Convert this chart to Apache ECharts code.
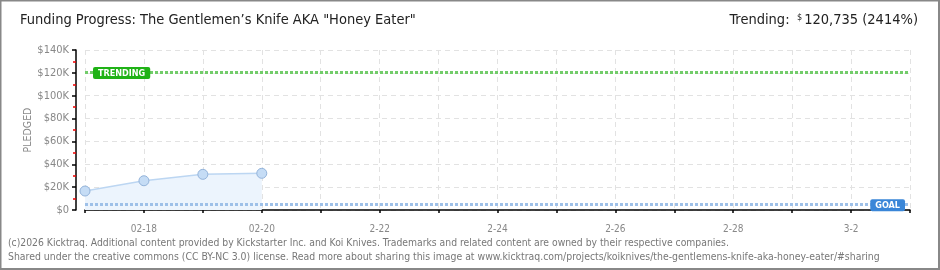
<!DOCTYPE html>
<html><head><meta charset="utf-8">
<script src="https://cdn.jsdelivr.net/npm/echarts@6/dist/echarts.min.js"></script>
<style>html,body{margin:0;padding:0;background:#fff}#c{width:940px;height:270px}</style>
</head><body><div id="c"></div>
<script>
var categories = ['02-17','02-18','02-19','02-20','02-21','02-22','02-23','02-24','02-25','02-26','02-27','02-28','03-01','03-02','03-03'];
var tickLabels = ['','02-18','','02-20','','2-22','','2-24','','2-26','','2-28','','3-2',''];
var pledged = [16600, 25600, 31200, 32100];
var yTicks = [0, 20000, 40000, 60000, 80000, 100000, 120000, 140000];
var goal = 5000;
var trending = 120735;
var FONT = '"DejaVu Sans Condensed","Liberation Sans Narrow","DejaVu Sans",sans-serif';

var chart = echarts.init(document.getElementById('c'), null, {renderer:'canvas'});
chart.setOption({
  animation:false,
  backgroundColor:'#fff',
  grid:{left:85, right:30, top:50, bottom:60},
  xAxis:{
    type:'category', data:categories, boundaryGap:false, offset:10,
    axisLine:{lineStyle:{color:'#000', width:1.5}},
    axisTick:{show:true, length:3, interval:0, lineStyle:{color:'#000', width:1.5}},
    axisLabel:{interval:0, margin:4, color:'#888', fontSize:10, fontFamily:FONT,
      formatter:function(v, i){ return tickLabels[i]; }},
    splitLine:{show:true, interval:0, lineStyle:{color:'#e2e2e2', type:[5,4]}}
  },
  yAxis:{
    type:'value', min:yTicks[0], max:yTicks[yTicks.length-1], interval:yTicks[1]-yTicks[0], offset:9,
    name:'PLEDGED', nameLocation:'middle', nameGap:42, nameMoveOverlap:false,
    nameTextStyle:{color:'#888', fontSize:10.5, fontFamily:FONT},
    axisLine:{show:true, lineStyle:{color:'#000', width:1.5}},
    axisTick:{show:true, length:4, lineStyle:{color:'#000', width:1.5}},
    minorTick:{show:true, splitNumber:2, length:3, lineStyle:{color:'#e00', width:1.5}},
    axisLabel:{margin:7, color:'#888', fontSize:11, fontFamily:FONT,
      formatter:function(v){ return v===0 ? '$0' : '$'+(v/1000)+'K'; }},
    splitLine:{show:true, lineStyle:{color:'#e2e2e2', type:[5,4]}}
  },
  series:[{
    type:'line', data:pledged,
    symbol:'circle', symbolSize:10,
    itemStyle:{color:'#c5dcf5', borderColor:'#93b3da', borderWidth:1},
    lineStyle:{color:'#bcd6f2', width:1.5},
    areaStyle:{color:'#ecf4fd', opacity:1},
    z:3,
    markLine:{
      silent:true, symbol:'none',
      data:[
        {yAxis:trending, lineStyle:{color:'#72cc6a', width:3, type:[3,2]},
         label:{show:true, position:'insideStartTop', formatter:'TRENDING', distance:[8,-7],
           backgroundColor:'#1fb216', color:'#fff', fontSize:9, fontWeight:'bold', fontFamily:FONT,
           padding:[2,5,1,5], borderRadius:2}},
        {yAxis:goal, lineStyle:{color:'#9ec0e8', width:3, type:[3,2]},
         label:{show:true, position:'insideEndTop', formatter:'GOAL', distance:[5,-7],
           backgroundColor:'#3a86d8', color:'#fff', fontSize:9, fontWeight:'bold', fontFamily:FONT,
           padding:[2,5,1,5], borderRadius:2}}
      ]
    }
  }],
  graphic:[
    {type:'rect', shape:{x:0.5, y:0.5, width:938.5, height:268.5}, style:{fill:'none', stroke:'#888', lineWidth:2}, silent:true},
    {type:'text', left:20, top:13, style:{text:'Funding Progress: The Gentlemen\u2019s Knife AKA "Honey Eater"', fill:'#222', font:'14.5px '+FONT}},
    {type:'text', right:22, top:13, style:{
      rich:{a:{fontSize:14.5, fontFamily:FONT, fill:'#222'}, s:{fontSize:9, fontFamily:FONT, fill:'#222', verticalAlign:'top', padding:[0,2,6,0]}},
      text:'{a|Trending: } {s|$}{a|120,735 (2414%)}'}},
    {type:'text', left:8, top:238, style:{text:'(c)2026 Kicktraq. Additional content provided by Kickstarter Inc. and Koi Knives. Trademarks and related content are owned by their respective companies.', fill:'#777', font:'10.3px '+FONT}},
    {type:'text', left:8, top:252, style:{text:'Shared under the creative commons (CC BY-NC 3.0) license. Read more about sharing this image at www.kicktraq.com/projects/koiknives/the-gentlemens-knife-aka-honey-eater/#sharing', fill:'#777', font:'10.4px '+FONT}}
  ]
});
</script></body></html>
